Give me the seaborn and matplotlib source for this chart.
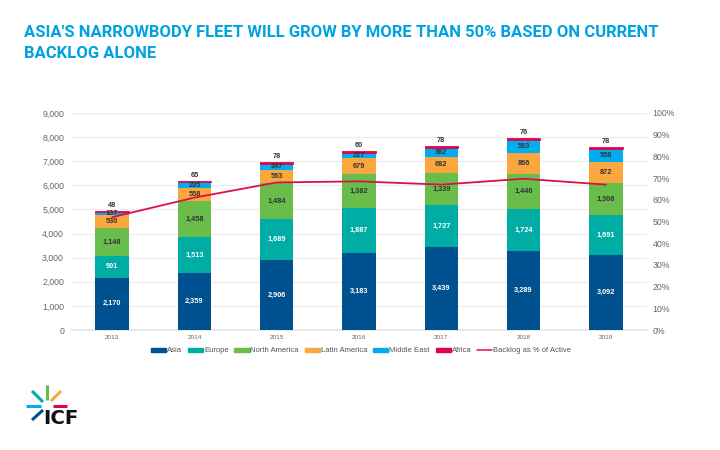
import numpy as np
import pandas as pd
import seaborn as sns
import matplotlib
matplotlib.use("Agg")
import matplotlib.pyplot as plt
from matplotlib.lines import Line2D
from matplotlib.patches import Patch

years = ["2013", "2014", "2015", "2016", "2017", "2018", "2019"]
asia = [2170, 2359, 2906, 3183, 3439, 3289, 3092]
europe = [901, 1513, 1689, 1887, 1727, 1724, 1691]
north_america = [1148, 1458, 1484, 1382, 1339, 1446, 1308]
latin_america = [530, 558, 563, 679, 682, 866, 872]
middle_east = [137, 235, 247, 227, 362, 563, 558]
africa = [48, 65, 78, 60, 78, 76, 78]
backlog_pct = [52, 61, 68, 68.5, 67, 69.7, 67]
series_names = ["Asia", "Europe", "North America", "Latin America", "Middle East", "Africa"]
series_values = [asia, europe, north_america, latin_america, middle_east, africa]
series_colors = ["#00518F", "#00ADA4", "#69BE4B", "#F9A73E", "#00AEEF", "#E2034F"]
label_colors = ["white", "white", "#333333", "#333333", "#333333", "#333333"]
line_name = "Backlog as % of Active"
title_lines = ["ASIA'S NARROWBODY FLEET WILL GROW BY MORE THAN 50% BASED ON CURRENT", "BACKLOG ALONE"]

sns.set_theme(style="white")
plt.rcParams["font.family"] = ["Liberation Sans", "DejaVu Sans"]

W, H = 720, 450
fig = plt.figure(figsize=(W / 100, H / 100), dpi=100, facecolor="white")
ax = fig.add_axes([71 / W, 1 - 330 / H, (647 - 71) / W, (330 - 113) / H])

bottom = np.zeros(len(years))
for name, vals, col, lc in zip(series_names, series_values, series_colors, label_colors):
    df = pd.DataFrame({"year": years, "value": vals})
    edge = 0.6 if name == "Africa" else 0
    sns.barplot(data=df, x="year", y="value", color=col, saturation=1, width=0.405,
                bottom=bottom, ax=ax, errorbar=None, zorder=3, edgecolor=col, linewidth=edge)
    arr = np.array(vals, dtype=float)
    for i, v in enumerate(arr):
        if name == "Africa":
            ax.text(i, bottom[i] + v + 90, f"{int(v)}", ha="center", va="bottom",
                    fontsize=5.3, fontweight="bold", color=lc, zorder=6)
        else:
            ax.text(i, bottom[i] + v / 2, f"{int(v):,}", ha="center", va="center",
                    fontsize=5.3, fontweight="bold", color=lc, zorder=6)
    bottom = bottom + arr

ax.set_xlim(-0.5, 6.5)
ax.set_ylim(0, 9000)
ax.set_yticks(range(0, 10000, 1000))
ax.set_yticklabels([f"{v:,}" for v in range(0, 10000, 1000)])
ax.set_xlabel("")
ax.set_ylabel("")
ax.grid(axis="y", color="#EDEDED", lw=1)
ax.set_axisbelow(True)
ax.tick_params(axis="y", labelsize=6.3, labelcolor="#666666", length=0, pad=5)
ax.tick_params(axis="x", labelsize=4.6, labelcolor="#666666", length=0, pad=3.5)
for s in ax.spines.values():
    s.set_visible(False)
ax.spines["bottom"].set_visible(True)
ax.spines["bottom"].set_color("#E6E6E6")

ax2 = ax.twinx()
ax2.set_zorder(ax.get_zorder() + 1)
ax2.patch.set_visible(False)
sns.lineplot(x=np.arange(len(years)), y=backlog_pct, color="#D9104F", lw=1.3, ax=ax2, errorbar=None)
ax2.set_ylim(0, 100)
ax2.set_yticks(range(0, 110, 10))
ax2.set_yticklabels([f"{v}%" for v in range(0, 110, 10)])
ax2.tick_params(axis="y", labelsize=6.3, labelcolor="#666666", length=0, pad=4)
ax2.grid(False)
for s in ax2.spines.values():
    s.set_visible(False)

handles = [Patch(color=c) for c in series_colors] + [Line2D([], [], color="#D9104F", lw=1.1)]
labels = series_names + [line_name]
fig.legend(handles, labels, loc="center", bbox_to_anchor=(361 / W, 1 - 351 / H), ncol=7, frameon=False,
           fontsize=5.5, labelcolor="#555555", handlelength=2.0, handleheight=0.35,
           handletextpad=0.12, columnspacing=0.75, borderpad=0)

fig.text(24 / W, 1 - 32.5 / H, title_lines[0], fontsize=12, fontweight="bold", color="#00A3E0",
         family="Roboto", ha="left", va="center")
fig.text(24 / W, 1 - 54 / H, title_lines[1], fontsize=12, fontweight="bold", color="#00A3E0",
         family="Roboto", ha="left", va="center")

# logo
strokes = [((32, 391), (43, 402), "#00ADA4"), ((46.5, 385), (46.5, 400), "#69BE4B"),
           ((51, 401), (61, 391), "#F9A73E"), ((26, 406), (41, 406), "#00AEEF"),
           ((53, 406), (67, 406), "#E2034F"), ((32, 420), (43, 410), "#00518F")]
for (x0, y0), (x1, y1), c in strokes:
    fig.add_artist(Line2D([x0 / W, x1 / W], [1 - y0 / H, 1 - y1 / H], color=c, lw=2.2,
                          transform=fig.transFigure, solid_capstyle="butt"))
fig.text(43 / W, 1 - 419 / H, "ICF", fontsize=14.2, fontweight="bold", color="#111111",
         family="DejaVu Sans", ha="left", va="center")

fig.savefig("out.png", dpi=100, facecolor="white")
